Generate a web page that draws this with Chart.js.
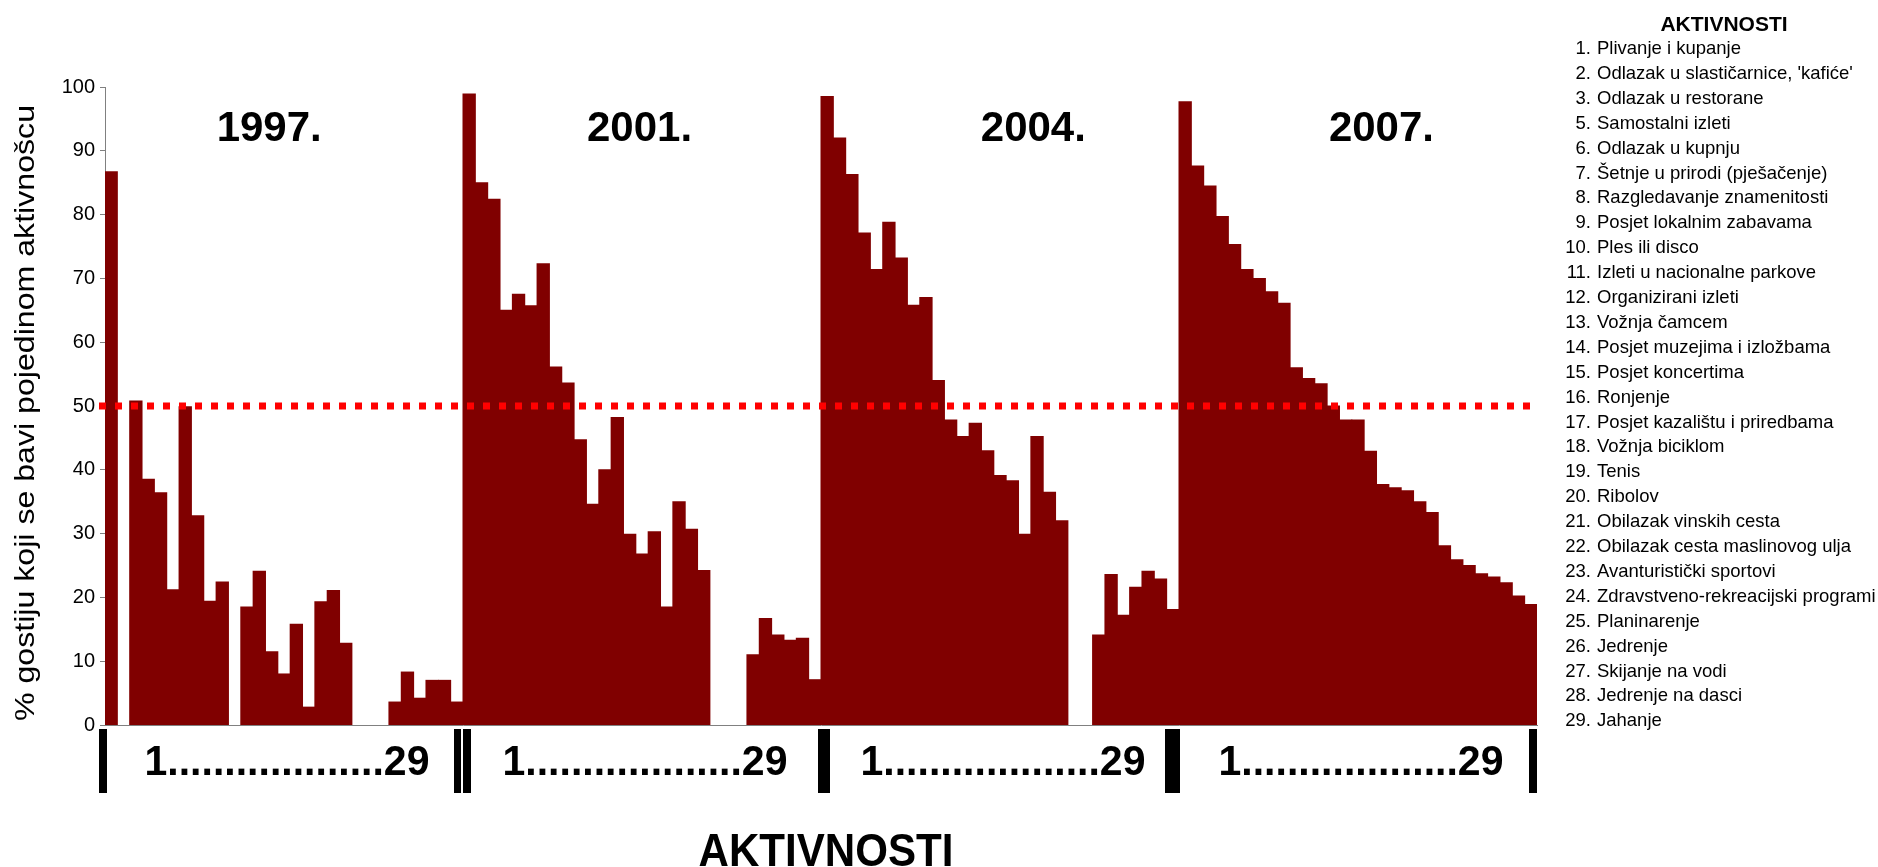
<!DOCTYPE html>
<html>
<head>
<meta charset="utf-8">
<script src="https://cdn.jsdelivr.net/npm/chart.js@4.4.0/dist/chart.umd.min.js"></script>
<style>
  html, body { margin: 0; padding: 0; background: #fff; }
  #wrap { width: 1878px; height: 867px; position: relative; }
</style>
</head>
<body>
<div id="wrap"><canvas id="c" width="1878" height="867"></canvas></div>
<script>
// data
const years = ['1997.', '2001.', '2004.', '2007.'];
const barsPerYear = 29;
const v1997 = [86.7, 0, 50.8, 38.5, 36.4, 21.2, 49.9, 32.8, 19.4, 22.4, 0, 18.5, 24.1, 11.5, 8.0, 15.8, 2.8, 19.3, 21.1, 12.8, 0, 0, 0, 3.6, 8.3, 4.2, 7.0, 7.0, 3.6];
const v2001 = [98.9, 85.0, 82.4, 65.0, 67.5, 65.7, 72.3, 56.1, 53.6, 44.7, 34.6, 40.0, 48.2, 29.9, 26.8, 30.3, 18.5, 35.0, 30.7, 24.2, 0, 0, 0, 11.0, 16.7, 14.1, 13.3, 13.6, 7.1];
const v2004 = [98.5, 92.0, 86.3, 77.1, 71.4, 78.8, 73.2, 65.8, 67.0, 54.0, 47.8, 45.2, 47.3, 43.0, 39.1, 38.3, 29.9, 45.2, 36.5, 32.0, 0, 0, 14.1, 23.6, 17.2, 21.6, 24.1, 22.9, 18.1];
const v2007 = [97.7, 87.6, 84.5, 79.7, 75.3, 71.4, 70.0, 67.9, 66.1, 56.0, 54.3, 53.5, 50.0, 47.8, 47.8, 42.9, 37.7, 37.2, 36.7, 35.0, 33.3, 28.1, 25.9, 25.0, 23.7, 23.2, 22.3, 20.2, 18.9];
const threshold = 50;
const yMin = 0, yMax = 100, yStep = 10;

const yTitle = '% gostiju koji se bavi pojedinom aktivnošcu';
const xTitle = 'AKTIVNOSTI';
const groupLabel = '1...................29';

const legendTitle = 'AKTIVNOSTI';
const activityNums = [1, 2, 3, 5, 6, 7, 8, 9, 10, 11, 12, 13, 14, 15, 16, 17, 18, 19, 20, 21, 22, 23, 24, 25, 26, 27, 28, 29];
const activityNames = [
  'Plivanje i kupanje', "Odlazak u slastičarnice, 'kafiće'", 'Odlazak u restorane', 'Samostalni izleti',
  'Odlazak u kupnju', 'Šetnje u prirodi (pješačenje)', 'Razgledavanje znamenitosti', 'Posjet lokalnim zabavama',
  'Ples ili disco', 'Izleti u nacionalne parkove', 'Organizirani izleti', 'Vožnja čamcem',
  'Posjet muzejima i izložbama', 'Posjet koncertima', 'Ronjenje', 'Posjet kazalištu i priredbama',
  'Vožnja biciklom', 'Tenis', 'Ribolov', 'Obilazak vinskih cesta', 'Obilazak cesta maslinovog ulja',
  'Avanturistički sportovi', 'Zdravstveno-rekreacijski programi', 'Planinarenje', 'Jedrenje',
  'Skijanje na vodi', 'Jedrenje na dasci', 'Jahanje'
];

// build the category axis + one series from the arrays above
const labels = [];
years.forEach(y => { for (let i = 1; i <= barsPerYear; i++) labels.push(y + ' ' + i); });
const values = [].concat(v1997, v2001, v2004, v2007);

const FONT = "'Liberation Sans', Arial, sans-serif";
const BAR = '#800000';

// where the year titles sit, as a category offset inside each group
const yearPos = [12.8, 13.8, 16.7, 15.9];
// black separators under the axis: [from, to] pixels relative to group boundary
const sepOffsets = [[[-6, 2]], [[-9, -2], [0, 8]], [[-3, 9]], [[-14, 1]], [[-8, 0]]];

// condensed text helper
function stretchText(ctx, txt, x, y, width) {
  const w = ctx.measureText(txt).width;
  ctx.save();
  ctx.translate(x, y);
  ctx.scale(width / w, 1);
  ctx.fillText(txt, 0, 0);
  ctx.restore();
}

const overlay = {
  id: 'overlay',
  afterDatasetsDraw(chart) {
    const { ctx, chartArea, scales: { y } } = chart;
    const yy = Math.round(y.getPixelForValue(threshold));
    ctx.save();
    ctx.strokeStyle = '#ff0000';
    ctx.lineWidth = 7;
    ctx.setLineDash([7, 9]);
    ctx.beginPath();
    ctx.moveTo(chartArea.left - 6, yy);
    ctx.lineTo(chartArea.right, yy);
    ctx.stroke();
    ctx.restore();
  },
  afterDraw(chart) {
    const { ctx, scales: { x } } = chart;
    ctx.save();
    ctx.fillStyle = '#000';

    // year titles
    ctx.font = 'bold 42px ' + FONT;
    ctx.textAlign = 'center';
    ctx.textBaseline = 'alphabetic';
    years.forEach((yr, g) => {
      ctx.fillText(yr, x.getPixelForValue(g * barsPerYear + yearPos[g]), 141);
    });

    // separators
    for (let g = 0; g <= years.length; g++) {
      const bx = x.getPixelForValue(g * barsPerYear - 0.5);
      sepOffsets[g].forEach(([a, b]) => ctx.fillRect(bx + a, 729, b - a, 64));
    }

    // 1.....29 under each group
    ctx.font = 'bold 42px ' + FONT;
    ctx.textAlign = 'center';
    years.forEach((yr, g) => {
      const cx = x.getPixelForValue(g * barsPerYear + (barsPerYear - 1) / 2) + 3;
      stretchText(ctx, groupLabel, cx, 775, 285);
    });

    // x title
    ctx.font = 'bold 46px ' + FONT;
    stretchText(ctx, xTitle, 826, 866, 255);

    // y title
    ctx.save();
    ctx.translate(26, 413);
    ctx.rotate(-Math.PI / 2);
    ctx.font = '28px ' + FONT;
    ctx.textBaseline = 'middle';
    stretchText(ctx, yTitle, 0, 0, 616);
    ctx.restore();

    // legend list
    ctx.font = 'bold 21px ' + FONT;
    ctx.textAlign = 'center';
    ctx.textBaseline = 'middle';
    ctx.fillText(legendTitle, 1724, 25);
    ctx.font = '18.5px ' + FONT;
    activityNames.forEach((name, i) => {
      const yy = 49 + i * 24.9;
      ctx.textAlign = 'right';
      ctx.fillText(activityNums[i] + '.', 1591, yy);
      ctx.textAlign = 'left';
      ctx.fillText(name, 1597, yy);
    });
    ctx.restore();
  }
};

new Chart(document.getElementById('c'), {
  type: 'bar',
  data: {
    labels,
    datasets: [{
      data: values,
      backgroundColor: BAR,
      borderWidth: 0,
      inflateAmount: c => (c.raw ? 0.5 : 0),
      barPercentage: 1,
      categoryPercentage: 1
    }]
  },
  options: {
    responsive: false,
    devicePixelRatio: 1,
    animation: false,
    layout: { padding: { left: 0, right: 341, top: 87, bottom: 142 } },
    plugins: { legend: { display: false }, tooltip: { enabled: false } },
    scales: {
      x: {
        grid: { display: false },
        ticks: { display: false },
        border: { display: true, color: '#808080', width: 1 },
        afterFit: s => { s.height = 0; }
      },
      y: {
        min: yMin,
        max: yMax,
        ticks: { stepSize: yStep, color: '#000', font: { family: FONT, size: 20 }, padding: 5 },
        grid: { drawOnChartArea: false, drawTicks: true, tickLength: 5, color: '#808080' },
        border: { display: true, color: '#808080', width: 1 },
        afterFit: s => { s.width = 105; }
      }
    }
  },
  plugins: [overlay]
});
</script>
</body>
</html>
